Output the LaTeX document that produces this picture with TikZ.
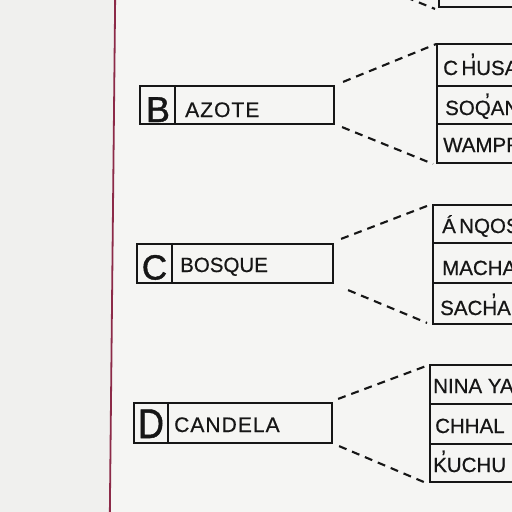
\documentclass[tikz,border=0pt]{standalone}
\usepackage{fontspec}
\setmainfont{Liberation Sans}
\usetikzlibrary{calc}
\definecolor{ink}{HTML}{161616}
\definecolor{paper}{HTML}{F5F5F3}
\definecolor{margincol}{HTML}{F0F0EE}
\definecolor{redline}{HTML}{8C2A48}
\newcommand{\glot}{\makebox[0pt][r]{\raisebox{0.36em}{’}\kern0.05em}}
\begin{document}
\begin{tikzpicture}[x=1pt,y=-1pt,
  lbox/.style={draw=ink, line width=2.2pt, inner sep=0pt},
  rowbox/.style={draw=ink, line width=1.9pt, inner sep=0pt, minimum width=125pt},
  divline/.style={draw=ink, line width=1.9pt},
  dashedlink/.style={draw=ink, line width=2.1pt, dash pattern=on 8pt off 6pt},
  word/.style={anchor=base west, inner sep=0pt, text=ink, font=\fontsize{21}{21}\selectfont\addfontfeature{LetterSpace=5,FakeBold=0.6}},
  cellword/.style={anchor=base west, inner sep=0pt, text=ink, font=\fontsize{20.5}{20.5}\selectfont\addfontfeature{FakeBold=0.6}},
  bigletter/.style={anchor=base, inner sep=0pt, text=ink, font=\fontsize{36}{36}\selectfont\addfontfeature{FakeBold=1.2}}]
\useasboundingbox (0,0) rectangle (512,512);
\clip (0,0) rectangle (512,512);
\fill[paper] (0,0) rectangle (512,512);
\fill[margincol] (0,0) -- (115,0) -- (110,512) -- (0,512) -- cycle;
\draw[redline, line width=1.8pt] (115.2,-5) -- (109.8,517);

% ---- left boxes ----
\node[lbox, minimum width=194pt, minimum height=38pt] (B) at (237,105) {};
\draw[divline] ([xshift=36pt]B.north west) -- ([xshift=36pt]B.south west);
\node[bigletter] (Bl) at (158,122) {B};
\node[word] (Bw) at (185,117) {AZOTE};

\node[lbox, minimum width=196pt, minimum height=39pt] (C) at (235,263.5) {};
\draw[divline] ([xshift=36pt]C.north west) -- ([xshift=36pt]C.south west);
\node[bigletter, font=\fontsize{35}{35}\selectfont\addfontfeature{FakeBold=1.2}] (Cl) at (154.5,279.5) {C};
\node[word, font=\fontsize{20.5}{20.5}\selectfont\addfontfeature{FakeBold=0.6}] (Cw) at (180,272) {BOSQUE};

\node[lbox, minimum width=198pt, minimum height=40pt] (D) at (233,423) {};
\draw[divline] ([xshift=35pt]D.north west) -- ([xshift=35pt]D.south west);
\node[bigletter, yscale=1.15] (Dl) at (151,438) {D};
\node[word] (Dw) at (174,432) {CANDELA};

% ---- top table (A, cut off) ----
\node[rowbox, minimum height=40pt] (a3) at (501.5,-13) {};
\coordinate (Aend) at (341,-29);

% ---- table B ----
\node[rowbox, minimum height=42pt] (b1) at (499.5,65) {};
\node[rowbox, minimum height=38pt] (b2) at (499.5,105) {};
\node[rowbox, minimum height=39pt] (b3) at (499.5,143.5) {};
\node[cellword] (b1t) at (443,75) {C\,H\glot USA};
\node[cellword] (b2t) at (445,115) {SOQ\glot ANA};
\node[cellword] (b3t) at (443,152) {WAMPR};

% ---- table C ----
\node[rowbox, minimum height=38pt] (c1) at (495.5,224) {};
\node[rowbox, minimum height=40pt] (c2) at (495.5,263) {};
\node[rowbox, minimum height=41pt] (c3) at (495.5,303.5) {};
\node[cellword] (c1t) at (442,233) {Á\,NQOS};
\node[cellword] (c2t) at (442,275) {MACHA};
\node[cellword] (c3t) at (440,315) {SACH\glot A};

% ---- table D ----
\node[rowbox, minimum height=39pt] (d1) at (492.5,384.5) {};
\node[rowbox, minimum height=40pt] (d2) at (492.5,424) {};
\node[rowbox, minimum height=38pt] (d3) at (492.5,463) {};
\node[cellword] (d1t) at (433,393) {NINA YA};
\node[cellword] (d2t) at (435,433) {CHHAL};
\node[cellword] (d3t) at (433,472) {K\glot UCHU};

% ---- dashed connectors ----
\draw[dashedlink] (Aend) -- ($(a3.south west)+(-3,1)$);
\draw[dashedlink] ($(B.north east)+(8,-3)$) -- ($(b1.north west)+(0,1)$);
\draw[dashedlink] ($(B.south east)+(7,2)$) -- ($(b3.south west)+(-3,0)$);
\draw[dashedlink] ($(C.north east)+(7,-4)$) -- ($(c1.north west)+(0,0)$);
\draw[dashedlink] ($(C.south east)+(14,6)$) -- ($(c3.south west)+(-5,-2)$);
\draw[dashedlink] ($(D.north east)+(5,-3)$) -- ($(d1.north west)+(-3,2)$);
\draw[dashedlink] ($(D.south east)+(6,2)$) -- ($(d3.south west)+(-3,0)$);
\end{tikzpicture}
\end{document}
